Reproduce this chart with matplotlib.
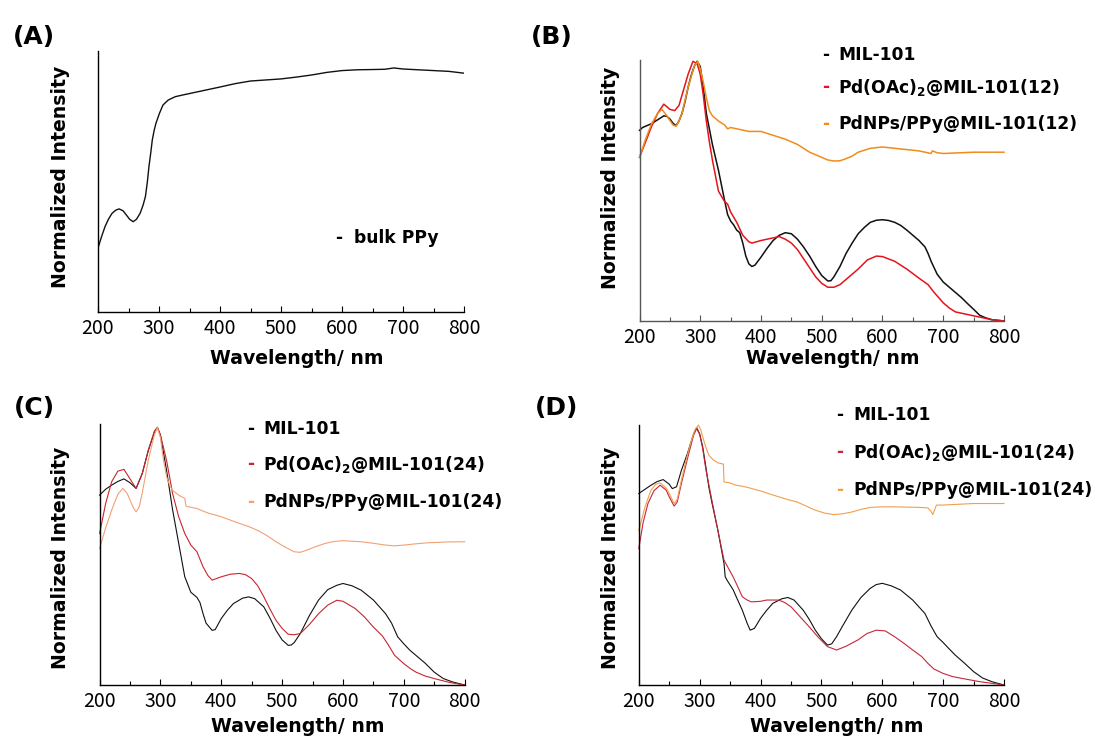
import matplotlib
matplotlib.use("Agg")
import matplotlib.pyplot as plt
from matplotlib.ticker import MultipleLocator

LABEL_FONT = ['DejaVu Sans']
TICK_FONT = ['Noto Sans CJK JP', 'DejaVu Sans']
plt.rcParams['font.family'] = LABEL_FONT
plt.rcParams['mathtext.fontset'] = 'dejavusans'

# ---------------- data ----------------
# Panel A: bulk PPy
a_x = [200, 206, 211.5, 217, 223, 229, 234.5, 241, 247, 252, 257.6, 263, 269, 274, 277.7, 281, 283.5, 286.5,
       289, 292, 295, 300.7, 306.5, 315, 326.7, 340, 360, 380, 400, 425, 450, 475, 500, 525, 550, 575, 600,
       625, 650, 670, 685, 700, 725, 750, 775, 800]
a_y = [0.245, 0.29, 0.327, 0.355, 0.378, 0.39, 0.395, 0.388, 0.37, 0.355, 0.346, 0.355, 0.378, 0.41, 0.442,
       0.50, 0.557, 0.61, 0.659, 0.695, 0.723, 0.761, 0.793, 0.812, 0.825, 0.832, 0.842, 0.852, 0.862, 0.875,
       0.885, 0.889, 0.893, 0.90, 0.908, 0.918, 0.925, 0.928, 0.929, 0.93, 0.935, 0.931, 0.928, 0.925, 0.922,
       0.915]

# Panel B
b_mil_x = [200, 205, 210, 220, 230, 240, 245, 250, 255, 260, 265, 270, 275, 280, 285, 290, 295, 300, 305, 310,
           315, 320, 330, 340, 345, 350, 355, 360, 365, 370, 375, 380, 385, 390, 400, 410, 420, 430, 440, 450,
           460, 470, 480, 490, 500, 510, 515, 520, 530, 540, 550, 560, 570, 580, 590, 600, 610, 620, 630, 640,
           650, 660, 670, 675, 680, 690, 700, 710, 720, 730, 740, 750, 760, 770, 780, 800]
b_mil_y = [0.734, 0.745, 0.75, 0.76, 0.775, 0.79, 0.788, 0.778, 0.762, 0.752, 0.77, 0.80, 0.845, 0.90, 0.945,
           0.98, 1.0, 0.98, 0.90, 0.80, 0.74, 0.68, 0.58, 0.465, 0.41, 0.385, 0.37, 0.35, 0.34, 0.30, 0.25,
           0.22, 0.21, 0.215, 0.246, 0.28, 0.31, 0.33, 0.34, 0.336, 0.315, 0.285, 0.25, 0.21, 0.175, 0.154,
           0.155, 0.17, 0.21, 0.26, 0.30, 0.336, 0.36, 0.38, 0.388, 0.39, 0.387, 0.38, 0.368, 0.35, 0.33, 0.31,
           0.285, 0.26, 0.23, 0.18, 0.15, 0.13, 0.11, 0.09, 0.067, 0.045, 0.022, 0.012, 0.005, 0.0]
b_pd_x = [200, 210, 220, 230, 240, 250, 258, 265, 270, 280, 288, 295, 300, 305, 310, 315, 320, 330, 340, 345,
          350, 360, 370, 380, 385, 400, 420, 430, 440, 450, 460, 470, 480, 490, 500, 510, 520, 530, 540, 560,
          575, 590, 600, 620, 640, 660, 675, 685, 700, 710, 720, 740, 760, 780, 800]
b_pd_y = [0.63, 0.69, 0.75, 0.80, 0.835, 0.815, 0.81, 0.83, 0.87, 0.95, 1.0, 0.99, 0.95, 0.87, 0.77, 0.69,
          0.62, 0.50, 0.46, 0.45, 0.42, 0.38, 0.33, 0.305, 0.30, 0.31, 0.32, 0.325, 0.315, 0.30, 0.275, 0.24,
          0.205, 0.17, 0.145, 0.13, 0.13, 0.14, 0.16, 0.20, 0.235, 0.25, 0.248, 0.23, 0.20, 0.165, 0.14, 0.11,
          0.07, 0.05, 0.035, 0.025, 0.015, 0.005, 0.0]
b_np_x = [200, 210, 220, 230, 237, 245, 255, 260, 265, 270, 280, 290, 296, 300, 305, 310, 315, 320, 330, 340,
          345, 350, 360, 370, 380, 400, 420, 440, 450, 460, 480, 500, 510, 520, 530, 540, 550, 560, 580, 600,
          620, 640, 660, 680, 682, 690, 700, 750, 800]
b_np_y = [0.63, 0.70, 0.76, 0.80, 0.815, 0.79, 0.755, 0.75, 0.77, 0.80, 0.90, 0.98, 1.0, 0.97, 0.92, 0.86,
          0.81, 0.79, 0.77, 0.755, 0.74, 0.745, 0.74, 0.735, 0.73, 0.73, 0.715, 0.70, 0.69, 0.68, 0.65, 0.63,
          0.62, 0.616, 0.617, 0.625, 0.635, 0.65, 0.665, 0.67, 0.665, 0.66, 0.655, 0.645, 0.655, 0.648, 0.645,
          0.65, 0.65]

# Panel C
c_mil_x = [200, 210, 220, 230, 240, 250, 260, 270, 280, 290, 295, 300, 310, 320, 330, 340, 350, 360, 365, 370,
           375, 385, 390, 400, 410, 420, 435, 445, 455, 470, 480, 490, 500, 510, 515, 520, 530, 545, 560, 575,
           590, 600, 615, 630, 650, 670, 680, 690, 700, 710, 720, 735, 750, 765, 780, 800]
c_mil_y = [0.737, 0.76, 0.776, 0.79, 0.80, 0.785, 0.763, 0.82, 0.91, 0.98, 1.0, 0.97, 0.834, 0.68, 0.55, 0.42,
           0.36, 0.34, 0.32, 0.277, 0.24, 0.212, 0.215, 0.258, 0.29, 0.316, 0.337, 0.342, 0.335, 0.303, 0.26,
           0.212, 0.175, 0.154, 0.155, 0.165, 0.2, 0.27, 0.33, 0.37, 0.387, 0.394, 0.385, 0.368, 0.33, 0.277,
           0.24, 0.187, 0.16, 0.135, 0.115, 0.085, 0.05, 0.025, 0.012, 0.0]
c_pd_x = [200, 210, 220, 230, 240, 250, 260, 270, 280, 290, 295, 300, 310, 320, 330, 340, 350, 360, 370, 378,
          385, 400, 415, 430, 440, 450, 460, 470, 480, 490, 500, 510, 520, 530, 545, 560, 575, 590, 600, 620,
          635, 650, 665, 675, 685, 700, 710, 720, 735, 750, 775, 800]
c_pd_y = [0.588, 0.705, 0.79, 0.83, 0.837, 0.80, 0.763, 0.82, 0.91, 0.985, 1.0, 0.97, 0.873, 0.743, 0.653,
          0.588, 0.543, 0.517, 0.459, 0.425, 0.407, 0.42, 0.43, 0.433, 0.428, 0.413, 0.385, 0.342, 0.295, 0.251,
          0.22, 0.197, 0.195, 0.2, 0.235, 0.277, 0.31, 0.329, 0.325, 0.297, 0.265, 0.225, 0.19, 0.154, 0.115,
          0.083, 0.065, 0.05, 0.035, 0.025, 0.01, 0.0]
c_np_x = [200, 210, 220, 230, 238, 245, 250, 255, 260, 265, 270, 280, 290, 295, 300, 305, 310, 315, 320, 330,
          340, 342, 350, 360, 370, 380, 390, 400, 415, 430, 445, 460, 475, 490, 505, 520, 530, 540, 555, 570,
          585, 600, 615, 630, 650, 670, 685, 700, 720, 740, 770, 800]
c_np_y = [0.53, 0.61, 0.68, 0.74, 0.763, 0.745, 0.718, 0.69, 0.672, 0.69, 0.744, 0.873, 0.97, 1.0, 0.96,
          0.873, 0.81, 0.776, 0.755, 0.737, 0.724, 0.694, 0.69, 0.685, 0.675, 0.666, 0.66, 0.653, 0.64, 0.627,
          0.615, 0.60, 0.58, 0.556, 0.535, 0.517, 0.515, 0.523, 0.537, 0.549, 0.557, 0.56, 0.558, 0.556, 0.55,
          0.543, 0.54, 0.543, 0.548, 0.552, 0.555, 0.556]

# Panel D
d_mil_x = [200, 210, 220, 230, 240, 250, 255, 262, 270, 280, 285, 290, 295, 300, 305, 310, 315, 320, 330, 340,
           342, 345, 355, 360, 370, 378, 383, 390, 400, 410, 420, 435, 445, 455, 470, 480, 490, 500, 510, 517,
           525, 535, 550, 565, 580, 590, 600, 615, 630, 650, 670, 680, 690, 700, 710, 720, 735, 750, 765, 780,
           800]
d_mil_y = [0.744, 0.76, 0.776, 0.79, 0.798, 0.78, 0.763, 0.77, 0.834, 0.90, 0.938, 0.975, 1.0, 0.975, 0.925,
           0.85, 0.77, 0.71, 0.60, 0.472, 0.42, 0.407, 0.37, 0.343, 0.291, 0.24, 0.213, 0.22, 0.259, 0.29,
           0.317, 0.335, 0.34, 0.33, 0.291, 0.255, 0.213, 0.18, 0.155, 0.16, 0.188, 0.23, 0.291, 0.34, 0.375,
           0.39, 0.395, 0.385, 0.369, 0.33, 0.278, 0.23, 0.188, 0.165, 0.14, 0.116, 0.085, 0.052, 0.027, 0.013,
           0.0]
d_pd_x = [200, 207, 215, 225, 235, 245, 250, 258, 263, 270, 280, 285, 290, 295, 300, 305, 310, 320, 330, 340,
          348, 355, 362, 370, 378, 385, 400, 410, 430, 440, 450, 465, 480, 495, 510, 525, 540, 560, 575, 590,
          605, 620, 635, 650, 665, 675, 685, 700, 715, 730, 760, 800]
d_pd_y = [0.53, 0.63, 0.705, 0.755, 0.776, 0.757, 0.731, 0.695, 0.71, 0.783, 0.88, 0.925, 0.97, 0.996, 0.975,
          0.918, 0.84, 0.718, 0.60, 0.485, 0.45, 0.42, 0.385, 0.343, 0.33, 0.323, 0.325, 0.33, 0.33, 0.32,
          0.304, 0.265, 0.226, 0.185, 0.149, 0.136, 0.15, 0.175, 0.2, 0.213, 0.21, 0.188, 0.163, 0.136, 0.11,
          0.084, 0.062, 0.045, 0.033, 0.026, 0.013, 0.0]
d_np_x = [200, 210, 220, 228, 235, 245, 250, 258, 263, 270, 280, 285, 292, 298, 302, 305, 310, 315, 322, 330,
          339, 340, 350, 360, 370, 380, 390, 400, 415, 430, 445, 460, 475, 490, 505, 520, 535, 550, 565, 580,
          600, 620, 640, 660, 675, 680, 683, 686, 689, 700, 725, 750, 800]
d_np_y = [0.60, 0.69, 0.757, 0.78, 0.785, 0.765, 0.744, 0.705, 0.72, 0.796, 0.895, 0.938, 0.99, 1.01, 0.99,
          0.964, 0.925, 0.893, 0.875, 0.863, 0.858, 0.789, 0.785, 0.776, 0.772, 0.767, 0.76, 0.754, 0.742, 0.731,
          0.72, 0.711, 0.695, 0.679, 0.668, 0.662, 0.665, 0.672, 0.682, 0.69, 0.692, 0.692, 0.691, 0.69, 0.688,
          0.675, 0.662, 0.68, 0.699, 0.699, 0.702, 0.705, 0.705]

x_ticks = [200, 300, 400, 500, 600, 700, 800]
x_label = 'Wavelength/ nm'
y_label = 'Normalized Intensity'
panel_names = ['(A)', '(B)', '(C)', '(D)']
a_legend = ['bulk PPy']
b_legend = ['MIL-101', r'Pd(OAc)$_\mathbf{2}$@MIL-101(12)', 'PdNPs/PPy@MIL-101(12)']
c_legend = ['MIL-101', r'Pd(OAc)$_\mathbf{2}$@MIL-101(24)', 'PdNPs/PPy@MIL-101(24)']
d_legend = ['MIL-101', r'Pd(OAc)$_\mathbf{2}$@MIL-101(24)', 'PdNPs/PPy@MIL-101(24)']

# ---------------- figure ----------------
W, H = 1101, 736
fig = plt.figure(figsize=(W / 100, H / 100), dpi=100)


def px_axes(l, r, t, b):
    return fig.add_axes([l / W, 1 - b / H, (r - l) / W, (b - t) / H])


def style(ax, spine_color='black', ytop=1.0):
    for s in ['top', 'right']:
        ax.spines[s].set_visible(False)
    for s in ['left', 'bottom']:
        ax.spines[s].set_color(spine_color)
        ax.spines[s].set_linewidth(1.0)
    ax.set_xlim(200, 800)
    ax.set_ylim(0, ytop)
    ax.set_xticks(x_ticks)
    ax.xaxis.set_minor_locator(MultipleLocator(50))
    ax.set_yticks([])
    ax.tick_params(axis='x', which='major', direction='in', length=4, width=0.8, color=spine_color,
                   labelsize=14, pad=4)
    ax.tick_params(axis='x', which='minor', direction='in', length=3, width=0.8, color=spine_color)
    for lab in ax.get_xticklabels():
        lab.set_family(TICK_FONT)


def legend_rows(xd, xt, ys, labels, colors, size=12.3):
    for y, lab, c in zip(ys, labels, colors):
        fig.text(xd / W, 1 - y / H, '-', color=c, fontsize=size, fontweight='bold', va='center_baseline',
                 ha='left')
        fig.text(xt / W, 1 - y / H, lab, color='black', fontsize=size, fontweight='bold',
                 va='center_baseline', ha='left')


def labels(xl_x, xl_y, yl_x, yl_y):
    fig.text(xl_x / W, 1 - xl_y / H, x_label, fontsize=13.6, fontweight='bold', ha='center',
             va='center_baseline')
    fig.text(yl_x / W, 1 - yl_y / H, y_label, fontsize=13.6, fontweight='bold', ha='center',
             va='center', rotation=90)


def panel_title(x, y, s):
    fig.text(x / W, 1 - y / H, s, fontsize=18, fontweight='bold', ha='center', va='center')


# Panel A
axA = px_axes(98, 464, 51, 312)
style(axA, ytop=1.0)
axA.plot(a_x, a_y, color='#111111', lw=1.0)
labels(297, 357, 61, 177)
legend_rows(335, 354, [236], a_legend, ['black'])
panel_title(34, 37, panel_names[0])

# Panel B
axB = px_axes(639.5, 1004, 60, 321)
style(axB, spine_color='#555555', ytop=1.005)
axB.plot(b_mil_x, b_mil_y, color='#111111', lw=1.1, clip_on=False)
axB.plot(b_pd_x, b_pd_y, color='#e5141b', lw=1.1, clip_on=False)
axB.plot(b_np_x, b_np_y, color='#ef8c1c', lw=1.1, clip_on=False)
labels(833, 357, 611, 178)
legend_rows(822, 838, [52.7, 85, 122], b_legend, ['black', '#e5141b', '#ef8c1c'])
panel_title(552, 37, panel_names[1])

# Panel C
axC = px_axes(99.6, 464.6, 424, 685)
style(axC, ytop=1.013)
axC.plot(c_mil_x, c_mil_y, color='#111111', lw=0.8, clip_on=False)
axC.plot(c_pd_x, c_pd_y, color='#c8262c', lw=0.8, clip_on=False)
axC.plot(c_np_x, c_np_y, color='#f2a175', lw=0.8, clip_on=False)
labels(298, 725, 61, 558)
legend_rows(247, 263, [427, 462, 500], c_legend, ['black', '#c8262c', '#f2a175'])
panel_title(34, 408, panel_names[2])

# Panel D
axD = px_axes(638.8, 1004, 425, 685)
style(axD, ytop=1.01)
axD.plot(d_mil_x, d_mil_y, color='#111111', lw=0.8, clip_on=False)
axD.plot(d_pd_x, d_pd_y, color='#c8263a', lw=0.8, clip_on=False)
axD.plot(d_np_x, d_np_y, color='#f0a04c', lw=0.8, clip_on=False)
labels(837, 725, 611, 558)
legend_rows(836, 853, [413, 450, 488], d_legend, ['black', '#c8263a', '#f0a04c'])
panel_title(557, 408, panel_names[3])

fig.savefig('out.png', dpi=100)
